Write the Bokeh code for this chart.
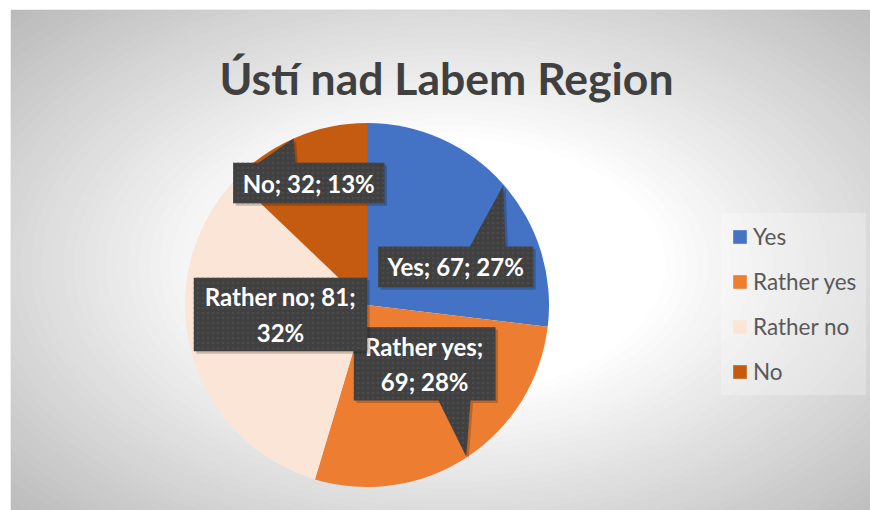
import math
from bokeh.plotting import figure
from bokeh.models import Range1d, Legend, LegendItem, ColumnDataSource
from bokeh.core.properties import value
from bokeh.embed import file_html
from bokeh.resources import INLINE

# ---- data ----
TITLE = "Ústí nad Labem Region"
CATEGORIES = ["Yes", "Rather yes", "Rather no", "No"]
COUNTS = [67, 69, 81, 32]
PERCENTS = [27, 28, 32, 13]
COLORS = ["#4472C4", "#ED7D31", "#FBE5D6", "#C55A11"]

# ---- layout / style ----
W, H = 870, 510
FW, FH = 859, 500
PIE_CX, PIE_CY, PIE_R = 355.5, 205.5, 182
FONT = "Lato"
# label line breaks: index of separator after which to break (None = single line)
LABEL_BREAK = [None, 1, 2, None]
# callouts: box centre offset from pie centre, size, pointer spec (relative to box centre)
CALLOUTS = [
    dict(dx=88.7, dy=38.2, w=155, h=40.7, side="top", b1=14.1, b2=49.8, ax=47.5, ay=81.3),
    dict(dx=57.7, dy=-58.8, w=141.7, h=73.3, side="bottom", b1=13.8, b2=45.8, ax=41.5, ay=-92.7),
    dict(dx=-86.5, dy=-9.5, w=173.4, h=73.4, side=None),
    dict(dx=-58.2, dy=122.0, w=151.3, h=40.4, side="top", b1=-50.3, b2=-13.3, ax=-15.3, ay=44.5),
]

p = figure(width=W, height=H, x_range=Range1d(0, FW), y_range=Range1d(0, FH),
           output_backend="svg", toolbar_location=None,
           x_axis_location=None, y_axis_location=None,
           min_border_left=11, min_border_top=10, min_border_right=0, min_border_bottom=0)
p.grid.visible = False
p.border_fill_color = "white"
p.background_fill_color = "#c4c4c4"
p.outline_line_color = "#bdbdbd"
p.outline_line_width = 1.5

# ---- radial gradient background (concentric ellipses) ----
gcx, gcy, gax, gay = 439, 245, 430, 255
ds = [1.7 - 0.025 * i for i in range(int((1.7 - 0.45) / 0.025) + 1)]
bg_w, bg_h, bg_c = [], [], []
for d in ds:
    g = 255 - 73 * max(d - 0.5, 0)
    g = int(max(min(g, 255), 185))
    bg_w.append(2 * gax * d)
    bg_h.append(2 * gay * d)
    bg_c.append("#%02x%02x%02x" % (g, g, g))
p.ellipse(x=[gcx] * len(ds), y=[gcy] * len(ds), width=bg_w, height=bg_h,
          fill_color=bg_c, line_color=None)

# ---- title ----
p.text(x=[435], y=[433.5], text=[TITLE], text_font=value(FONT), text_font_style="bold",
       text_font_size="44.5px", text_color="#404040", text_align="center",
       text_baseline="alphabetic")

# ---- pie ----
total = sum(COUNTS)
starts, ends = [], []
cum = 0
for v in COUNTS:
    a0 = math.pi / 2 - 2 * math.pi * cum / total
    cum += v
    a1 = math.pi / 2 - 2 * math.pi * cum / total
    starts.append(a1)
    ends.append(a0)
src = ColumnDataSource(dict(cat=CATEGORIES, start=starts, end=ends, color=COLORS,
                            x=[PIE_CX] * 4, y=[PIE_CY] * 4))
wr = p.wedge(x="x", y="y", radius=PIE_R, start_angle="start", end_angle="end",
             fill_color="color", line_color=None, source=src)

# ---- data labels (callouts) ----
for i, (c, n, pc) in enumerate(zip(CATEGORIES, COUNTS, PERCENTS)):
    parts = [c, str(n), f"{pc}%"]
    br = LABEL_BREAK[i]
    if br is None:
        label = "; ".join(parts)
    else:
        label = "; ".join(parts[:br]) + ";\n" + "; ".join(parts[br:])
    co = CALLOUTS[i]
    cx, cy = PIE_CX + co["dx"], PIE_CY + co["dy"]
    L, R = cx - co["w"] / 2, cx + co["w"] / 2
    B, T = cy - co["h"] / 2, cy + co["h"] / 2
    if co["side"] == "top":
        xs = [L, L, cx + co["b1"], cx + co["ax"], cx + co["b2"], R, R]
        ys = [B, T, T, cy + co["ay"], T, T, B]
    elif co["side"] == "bottom":
        xs = [L, R, R, cx + co["b2"], cx + co["ax"], cx + co["b1"], L]
        ys = [T, T, B, B, cy + co["ay"], B, B]
    else:
        xs = [L, R, R, L]
        ys = [T, T, B, B]
    p.patch(x=[x + 2.5 for x in xs], y=[y - 2.5 for y in ys], fill_color="black",
            fill_alpha=0.2, line_color=None)
    p.patch(x=xs, y=ys, fill_color="#404040", line_color=None,
            hatch_pattern="dot", hatch_color="#4b4b4b", hatch_scale=5, hatch_weight=1)
    p.text(x=[cx], y=[cy], text=[label], text_font=value(FONT), text_font_style="bold",
           text_font_size="24px", text_color="white", text_align="center",
           text_baseline="middle", text_line_height=1.22)

# ---- legend ----
items = [LegendItem(label=c, renderers=[wr], index=i) for i, c in enumerate(CATEGORIES)]
legend = Legend(items=items, location=(710, 115), orientation="vertical",
                glyph_width=17, glyph_height=17, label_height=25, label_standoff=5,
                spacing=18, padding=10, margin=0,
                label_text_font=FONT, label_text_font_size="22.5px",
                label_text_color="#595959",
                background_fill_color="white", background_fill_alpha=0.25,
                border_line_alpha=0)
p.add_layout(legend)

open("out.html", "w").write(file_html(p, INLINE))
